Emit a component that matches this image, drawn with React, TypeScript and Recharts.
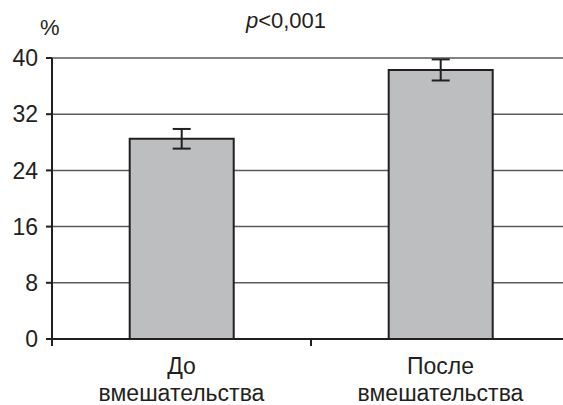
import { BarChart, Bar, XAxis, YAxis, CartesianGrid, ErrorBar } from "recharts";

const groups = ["До\nвмешательства", "После\nвмешательства"];
const shares = [28.5, 38.3];
const errors = [1.4, 1.5];
const yTicks = [0, 8, 16, 24, 32, 40];

const data = groups.map((g, i) => ({ group: g, value: shares[i], err: errors[i] }));

const INK = "#231f20";
const FONT = "'Liberation Sans', Arial, sans-serif";

// category label in two lines, plus a short tick on the left edge of each band
function GroupTick(props: any) {
  const { x, y, payload } = props;
  const half = payload?.offset ?? 0;
  const lines = String(payload.value).split("\n");
  return (
    <g>
      <line x1={x - half} x2={x - half} y1={y} y2={y + 7} stroke={INK} strokeWidth={2} />
      {lines.map((t, i) => (
        <text
          key={i}
          x={x}
          y={y + 35 + i * 27}
          textAnchor="middle"
          fontSize={23}
          fontFamily={FONT}
          fill={INK}
        >
          {t}
        </text>
      ))}
    </g>
  );
}

export default function App() {
  return (
    <div style={{ position: "absolute", left: 0, top: 0, width: 563, height: 405, overflow: "hidden", background: "#fff" }}>
      <div style={{ position: "absolute", left: 40, top: 15, fontSize: 22, fontFamily: FONT, color: INK }}>%</div>
      <div style={{ position: "absolute", left: 0, width: 572, top: 8, textAlign: "center", fontSize: 22, fontFamily: FONT, color: INK }}>
        <i>p</i>&lt;0,001
      </div>
      <BarChart
        width={580}
        height={405}
        data={data}
        margin={{ top: 58, right: 10, bottom: 0, left: 0 }}
        barCategoryGap="30%"
      >
        <CartesianGrid vertical={false} stroke="#5a5a5a" strokeWidth={1.5} />
        <XAxis
          dataKey="group"
          height={66}
          axisLine={{ stroke: INK, strokeWidth: 2 }}
          tickLine={false}
          tickSize={0}
          tickMargin={0}
          tick={<GroupTick />}
          interval={0}
        />
        <YAxis
          width={52}
          domain={[0, 40]}
          ticks={yTicks}
          axisLine={{ stroke: INK, strokeWidth: 2 }}
          tickLine={{ stroke: INK, strokeWidth: 2 }}
          tickSize={6}
          tickMargin={8}
          tick={{ fontSize: 23, fontFamily: FONT, fill: INK }}
        />
        <Bar dataKey="value" fill="#bdbec0" stroke={INK} strokeWidth={2} isAnimationActive={false}>
          <ErrorBar dataKey="err" width={9} stroke={INK} strokeWidth={2} isAnimationActive={false} />
        </Bar>
      </BarChart>
    </div>
  );
}
